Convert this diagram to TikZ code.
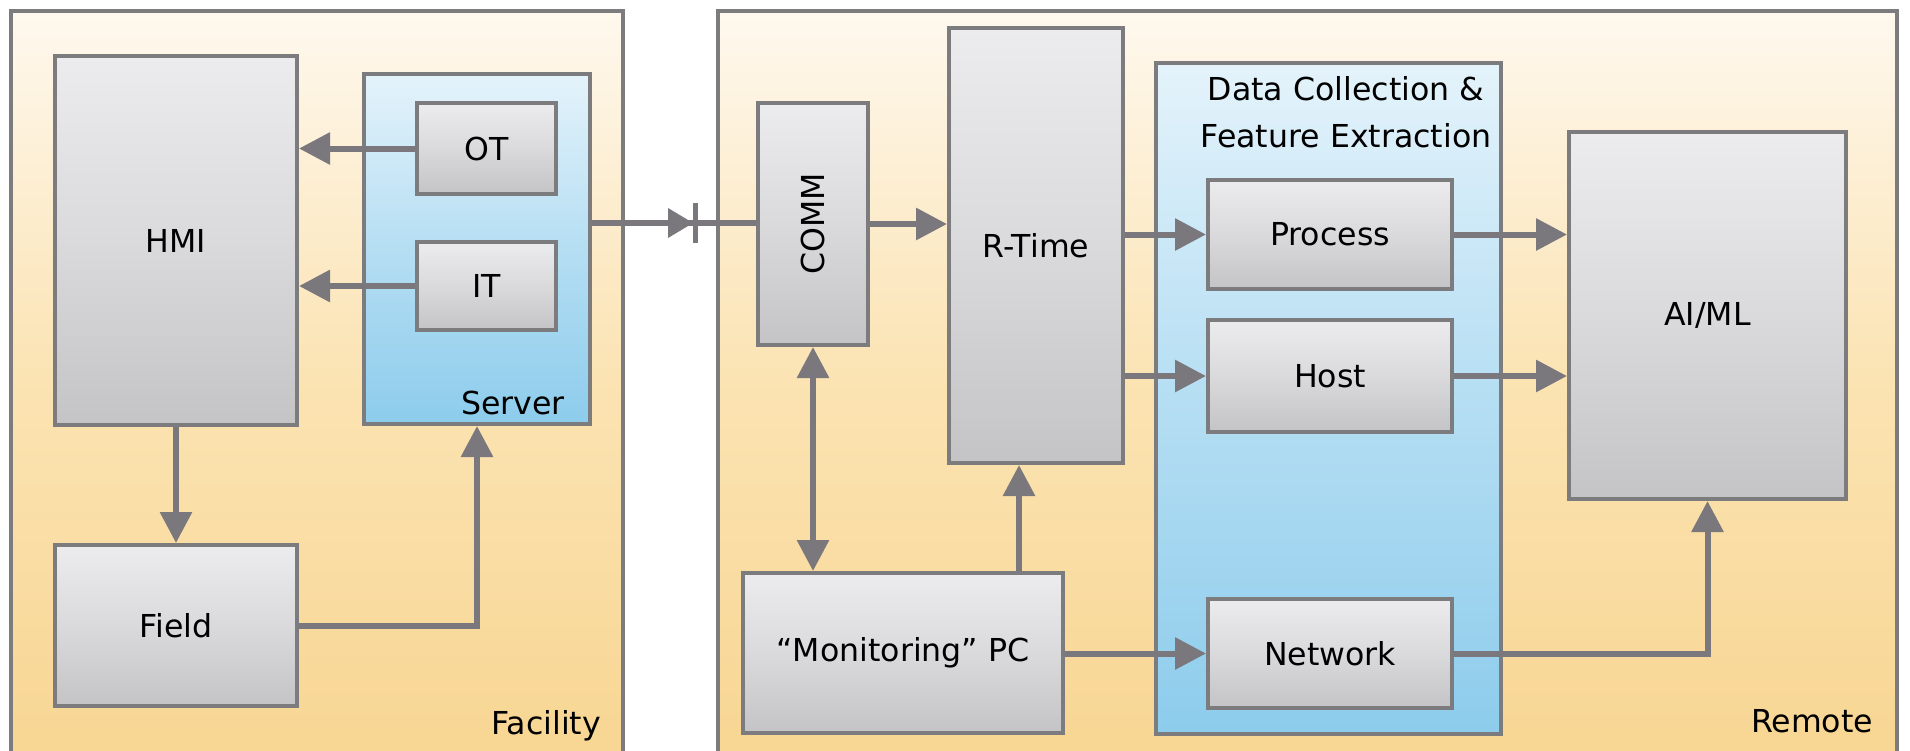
\documentclass[tikz,border=0pt]{standalone}
\usepackage{fontspec}
\setmainfont{DejaVu Sans}
\usetikzlibrary{arrows.meta,fit,calc}

\definecolor{edgegray}{HTML}{7C7B7E}
\definecolor{linkgray}{HTML}{7A787D}
\definecolor{creamtop}{HTML}{FEF8EE}
\definecolor{creammid}{HTML}{FBE3B2}
\definecolor{creambot}{HTML}{F8D693}
\definecolor{bluetop}{HTML}{E4F3FB}
\definecolor{bluemid}{HTML}{B5DEF3}
\definecolor{bluebot}{HTML}{8DCCEC}
\definecolor{graytop}{HTML}{ECECEE}
\definecolor{graymid}{HTML}{DADADC}
\definecolor{graybot}{HTML}{C4C4C6}

\begin{document}
\begin{tikzpicture}[x=0.5pt,y=-0.5pt,
  every node/.style={font=\fontsize{15.8}{19}\selectfont, text=black},
  zone/.style={draw=edgegray, line width=2pt, inner sep=0pt,
    top color=creamtop, bottom color=creambot, middle color=creammid},
  bluezone/.style={draw=edgegray, line width=2pt, inner sep=0pt,
    top color=bluetop, bottom color=bluebot, middle color=bluemid},
  block/.style={draw=edgegray, line width=2pt, inner sep=0pt,
    top color=graytop, bottom color=graybot, middle color=graymid},
  >={Triangle[length=15.5pt,width=15.5pt]},
  conn/.style={draw=linkgray, line width=3pt},
  tag/.style={anchor=base east},
  inlabel/.style={anchor=center, inner sep=0pt}]

\useasboundingbox (0,0) rectangle (1910,750);
\clip (0,0) rectangle (1910,750);

% outer zones
\node[zone, fit={(11,11)(623,756)}] (facility) {};
\node[zone, fit={(718,11)(1897,756)}] (remote) {};
\node[tag] (facilitylabel) at (608,734) {Facility};
\node[tag] (remotelabel) at (1880,732) {Remote};

% inner blue groups
\node[bluezone, fit={(364,74)(590,424)}] (server) {};
\node[tag] (serverlabel) at (572,414) {Server};
\node[bluezone, fit={(1156,63)(1501,734)}] (dcfe) {};
\node[anchor=base] (dcfetitle1) at (1346,100) {Data Collection \&};
\node[anchor=base] (dcfetitle2) at (1346,147) {Feature Extraction};

% facility blocks
\node[block, fit={(55,56)(297,425)}] (hmi) {};
\node[block, fit={(417,103)(556,194)}] (ot) {};
\node[block, fit={(417,242)(556,330)}] (it) {};
\node[block, fit={(55,545)(297,706)}] (field) {};
\node[inlabel] (hmilabel) at (hmi.center) {HMI};
\node[inlabel] (otlabel) at (ot.center) {OT};
\node[inlabel] (itlabel) at (it.center) {IT};
\node[inlabel] (fieldlabel) at (field.center) {Field};

% remote blocks
\node[block, fit={(758,103)(868,345)}] (comm) {};
\node[block, fit={(949,28)(1123,463)}] (rtime) {};
\node[block, fit={(743,573)(1063,733)}] (mon) {};
\node[block, fit={(1208,180)(1452,289)}] (process) {};
\node[block, fit={(1208,320)(1452,432)}] (host) {};
\node[block, fit={(1208,599)(1452,708)}] (network) {};
\node[block, fit={(1569,132)(1846,499)}] (aiml) {};
\node[inlabel, rotate=90] (commlabel) at (comm.center) {COMM};
\node[inlabel] (rtimelabel) at (rtime.center) {R-Time};
\node[inlabel] (monlabel) at (mon.center) {``Monitoring'' PC};
\node[inlabel] (processlabel) at (process.center) {Process};
\node[inlabel] (hostlabel) at (host.center) {Host};
\node[inlabel] (networklabel) at (network.center) {Network};
\node[inlabel] (aimllabel) at (aiml.center) {AI/ML};

% connectors inside the facility
\draw[conn,->] (ot.west) -- (hmi.east |- ot.west);
\draw[conn,->] (it.west) -- (hmi.east |- it.west);
\draw[conn,->] (hmi.south) -- (field.north);
\draw[conn,->] (field.east) -| (server.south);

% link from the server to the remote side, with the one-way diode
\coordinate (dio) at (693,223);
\draw[conn] (server.east |- dio) -- (comm.west |- dio);
\fill[linkgray] (dio) -- ++(-25,-15) -- ++(0,30) -- cycle;
\draw[linkgray, line width=2.5pt] ($(dio)+(2,-20)$) -- ++(0,40);

% connectors on the remote side
\draw[conn,->] (comm.east) -- (rtime.west |- comm.east);
\draw[conn,<->] (comm.south) -- (comm.south |- mon.north);
\coordinate (mr) at (1019,573);
\draw[conn,->] (mon.north -| mr) -- (rtime.south -| mr);
\draw[conn,->] (rtime.east |- process.west) -- (process.west);
\draw[conn,->] (rtime.east |- host.west) -- (host.west);
\draw[conn,->] (mon.east |- network.west) -- (network.west);
\draw[conn,->] (process.east) -- (aiml.west |- process.east);
\draw[conn,->] (host.east) -- (aiml.west |- host.east);
\draw[conn,->] (network.east) -| (aiml.south);

\end{tikzpicture}
\end{document}
